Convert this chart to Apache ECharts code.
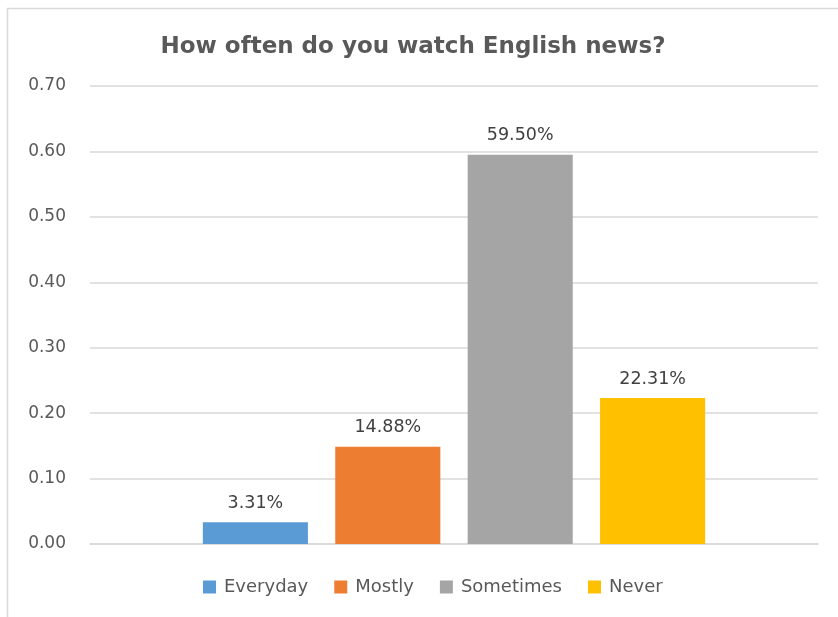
<!DOCTYPE html>
<html><head><meta charset="utf-8">
<script src="https://cdn.jsdelivr.net/npm/echarts@6/dist/echarts.min.js"></script>
<style>html,body{margin:0;padding:0;background:#fff}#c{width:838px;height:617px}</style>
</head><body><div id="c"></div>
<script>
const seriesNames = ['Everyday', 'Mostly', 'Sometimes', 'Never'];
const seriesValues = [0.0331, 0.1488, 0.595, 0.2231];
const colors = ['#5b9bd5', '#ed7d31', '#a5a5a5', '#ffc000'];
const yTicks = { min: 0, max: 0.7, interval: 0.1 };
const titleText = 'How often do you watch English news?';

const font = '"DejaVu Sans", "Open Sans", sans-serif';
const chart = echarts.init(document.getElementById('c'));
chart.setOption({
  animation: false,
  title: { text: titleText, left: 408, top: 31, textAlign: 'center',
    textStyle: { fontFamily: font, fontWeight: 'bold', fontSize: 23, color: '#595959' } },
  graphic: [{ type: 'rect', shape: { x: 7.5, y: 8.5, width: 900, height: 700 },
    style: { fill: 'none', stroke: '#d9d9d9', lineWidth: 1.5 }, silent: true }],
  legend: { bottom: 16, left: 198, itemWidth: 13, itemHeight: 13, itemGap: 26,
    icon: 'rect', data: seriesNames,
    textStyle: { fontFamily: font, fontSize: 18, color: '#595959', padding: [0, 0, 0, 3] } },
  grid: { left: 90, right: 20, top: 86, bottom: 73, containLabel: false },
  xAxis: { type: 'category', data: [''], axisTick: { show: false }, axisLabel: { show: false },
    axisLine: { show: true, lineStyle: { color: '#d9d9d9', width: 1.5 } } },
  yAxis: { type: 'value', min: yTicks.min, max: yTicks.max, interval: yTicks.interval,
    axisLine: { show: false }, axisTick: { show: false },
    axisLabel: { formatter: v => v.toFixed(2), fontFamily: font, fontSize: 17, color: '#595959', margin: 24 },
    splitLine: { lineStyle: { color: '#d9d9d9', width: 1.5 } } },
  series: seriesNames.map((n, i) => ({
    name: n, type: 'bar', data: [seriesValues[i]],
    barCategoryGap: '31%', barGap: '26%',
    itemStyle: { color: colors[i] },
    label: { show: true, position: 'top', distance: 10, formatter: p => (p.value * 100).toFixed(2) + '%',
      fontFamily: font, fontSize: 17.5, color: '#404040' }
  }))
});
</script></body></html>
